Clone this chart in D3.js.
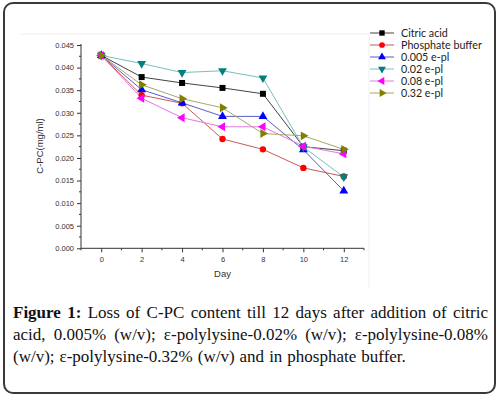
<!DOCTYPE html>
<meta charset="utf-8">
<style>
  body { margin: 0; background: #fff; }
</style>
<svg width="499" height="397"></svg>

<script src="https://d3js.org/d3.v7.min.js"></script>
<script>
var days = [0, 2, 4, 6, 8, 10, 12]
var seriesNames = ["Citric acid", "Phosphate buffer", "0.005 e-pl", "0.02 e-pl", "0.08 e-pl", "0.32 e-pl"]
var citric = [0.0427, 0.0379, 0.0366, 0.0355, 0.0342, 0.0225, 0.0216]
var phosphate = [0.0427, 0.0339, 0.0321, 0.0242, 0.0219, 0.0178, 0.0159]
var epl005 = [0.0427, 0.0351, 0.0322, 0.0292, 0.0292, 0.0218, 0.0127]
var epl02 = [0.0427, 0.0409, 0.0389, 0.0393, 0.0377, 0.0224, 0.0158]
var epl08 = [0.0427, 0.0332, 0.0289, 0.0269, 0.0269, 0.0226, 0.0209]
var epl32 = [0.0427, 0.0362, 0.0331, 0.0311, 0.0254, 0.0249, 0.0219]
var yTicks = [0, 0.005, 0.01, 0.015, 0.02, 0.025, 0.03, 0.035, 0.04, 0.045]
var xTicks = [0, 2, 4, 6, 8, 10, 12]

var allValues = [citric, phosphate, epl005, epl02, epl08, epl32]
var markColors = ["#000000", "#ff0000", "#0000ff", "#008080", "#ff00ff", "#808000"]
var lineColors = ["#444444", "#c85a5a", "#5c5cc8", "#7fbcbc", "#e07ae0", "#a8a86a"]
var shapes = [d3.symbolSquare, d3.symbolCircle, d3.symbolTriangle, d3.symbolTriangle, d3.symbolTriangle, d3.symbolTriangle]
var rotations = [0, 0, 0, 180, -90, 90]
var sizes = [36, 32, 34, 34, 34, 34]

var svg = d3.select('svg')

// frame
svg.append('rect')
  .attr('x', 4).attr('y', 3).attr('width', 491).attr('height', 390)
  .attr('rx', 9).attr('fill', 'none').attr('stroke', '#3a3a3a').attr('stroke-width', 2)
svg.append('line').attr('x1', 19).attr('x2', 369).attr('y1', 34).attr('y2', 34)
  .attr('stroke', '#f0f0f0')
svg.append('line').attr('x1', 369).attr('x2', 369).attr('y1', 34).attr('y2', 288)
  .attr('stroke', '#f0f0f0')

var x = d3.scaleLinear().domain([-1, 13]).range([81, 364])
var y = d3.scaleLinear().domain([0, 0.045]).range([248.3, 45])

// y axis
var yAxis = d3.axisLeft(y).tickValues(yTicks).tickFormat(d3.format('.3f')).tickSize(4).tickPadding(3)
var gy = svg.append('g').attr('transform', 'translate(81,0)').call(yAxis)
gy.select('.domain').attr('stroke', '#333').attr('d', 'M0,' + y(0) + 'V' + (y(0.045) - 1))
var yMinor = d3.range(0.0025, 0.045, 0.005)
gy.selectAll('.minor').data(yMinor).enter().append('line')
  .attr('x1', 0).attr('x2', -2).attr('y1', function (d) { return y(d) }).attr('y2', function (d) { return y(d) })
  .attr('stroke', '#333')

// x axis
var xAxis = d3.axisBottom(x).tickValues(xTicks).tickSize(4).tickPadding(4)
var gx = svg.append('g').attr('transform', 'translate(0,' + y(0) + ')').call(xAxis)
gx.select('.domain').attr('stroke', '#333').attr('d', 'M81,0H' + x(13))
var xMinor = [-1, 1, 3, 5, 7, 9, 11, 13]
gx.selectAll('.minor').data(xMinor).enter().append('line')
  .attr('x1', function (d) { return x(d) }).attr('x2', function (d) { return x(d) })
  .attr('y1', 0).attr('y2', 2).attr('stroke', '#333')

svg.selectAll('.tick line').attr('stroke', '#333')
svg.selectAll('.tick text').attr('font-family', 'Liberation Sans, Arial, sans-serif')
  .attr('font-size', 7.5).attr('fill', '#333')

svg.append('text').attr('transform', 'translate(43,146) rotate(-90)')
  .attr('text-anchor', 'middle').attr('font-family', 'Liberation Sans, Arial, sans-serif')
  .attr('font-size', 9.5).attr('fill', '#333').text('C-PC(mg/ml)')
svg.append('text').attr('x', x(6)).attr('y', 277)
  .attr('text-anchor', 'middle').attr('font-family', 'Liberation Sans, Arial, sans-serif')
  .attr('font-size', 9.5).attr('fill', '#333').text('Day')

// series
var line = d3.line()
  .x(function (d, i) { return x(days[i]) })
  .y(function (d) { return y(d) })

allValues.forEach(function (vals, s) {
  svg.append('path').datum(vals)
    .attr('d', line).attr('fill', 'none')
    .attr('stroke', lineColors[s]).attr('stroke-width', 1)
})
allValues.forEach(function (vals, s) {
  svg.append('g').selectAll('path').data(vals).enter().append('path')
    .attr('d', d3.symbol().type(shapes[s]).size(sizes[s]))
    .attr('transform', function (d, i) { return 'translate(' + x(days[i]) + ',' + y(d) + ') rotate(' + rotations[s] + ')' })
    .attr('fill', markColors[s])
})

// legend
var legend = svg.append('g')
seriesNames.forEach(function (name, s) {
  var ly = 33 + s * 12
  legend.append('line').attr('x1', 370).attr('x2', 394).attr('y1', ly).attr('y2', ly)
    .attr('stroke', lineColors[s])
  legend.append('path')
    .attr('d', d3.symbol().type(shapes[s]).size(sizes[s] * 0.8))
    .attr('transform', 'translate(382,' + ly + ') rotate(' + rotations[s] + ')')
    .attr('fill', markColors[s])
  legend.append('text').attr('x', 401).attr('y', ly + 3.5)
    .attr('font-family', 'Lato, Open Sans, sans-serif').attr('font-size', 10.7)
    .attr('fill', '#222').text(name)
})

// caption, justified word by word
var captionLines = [
  ["Figure 1:", "Loss of C-PC content till 12 days after addition of citric"],
  ["", "acid, 0.005% (w/v); ε-polylysine-0.02% (w/v); ε-polylysine-0.08%"],
  ["", "(w/v); ε-polylysine-0.32% (w/v) and in phosphate buffer."]
]
var capLeft = 13, capWidth = 475
captionLines.forEach(function (ln, i) {
  var words = []
  if (ln[0]) ln[0].split(' ').forEach(function (w) { words.push({ t: w, bold: true }) })
  ln[1].split(' ').forEach(function (w) { words.push({ t: w, bold: false }) })
  var g = svg.append('g')
  var nodes = words.map(function (w) {
    return g.append('text')
      .attr('y', 318 + i * 22)
      .attr('font-family', 'Liberation Serif, serif')
      .attr('font-size', 17)
      .attr('font-weight', w.bold ? 'bold' : 'normal')
      .attr('fill', '#111')
      .text(w.t)
  })
  var widths = nodes.map(function (n) { return n.node().getComputedTextLength() })
  var total = d3.sum(widths)
  var gap = i < 2 ? (capWidth - total) / (words.length - 1) : 5
  var cx = capLeft
  nodes.forEach(function (n, k) {
    n.attr('x', cx)
    cx += widths[k] + gap
  })
})
</script>
